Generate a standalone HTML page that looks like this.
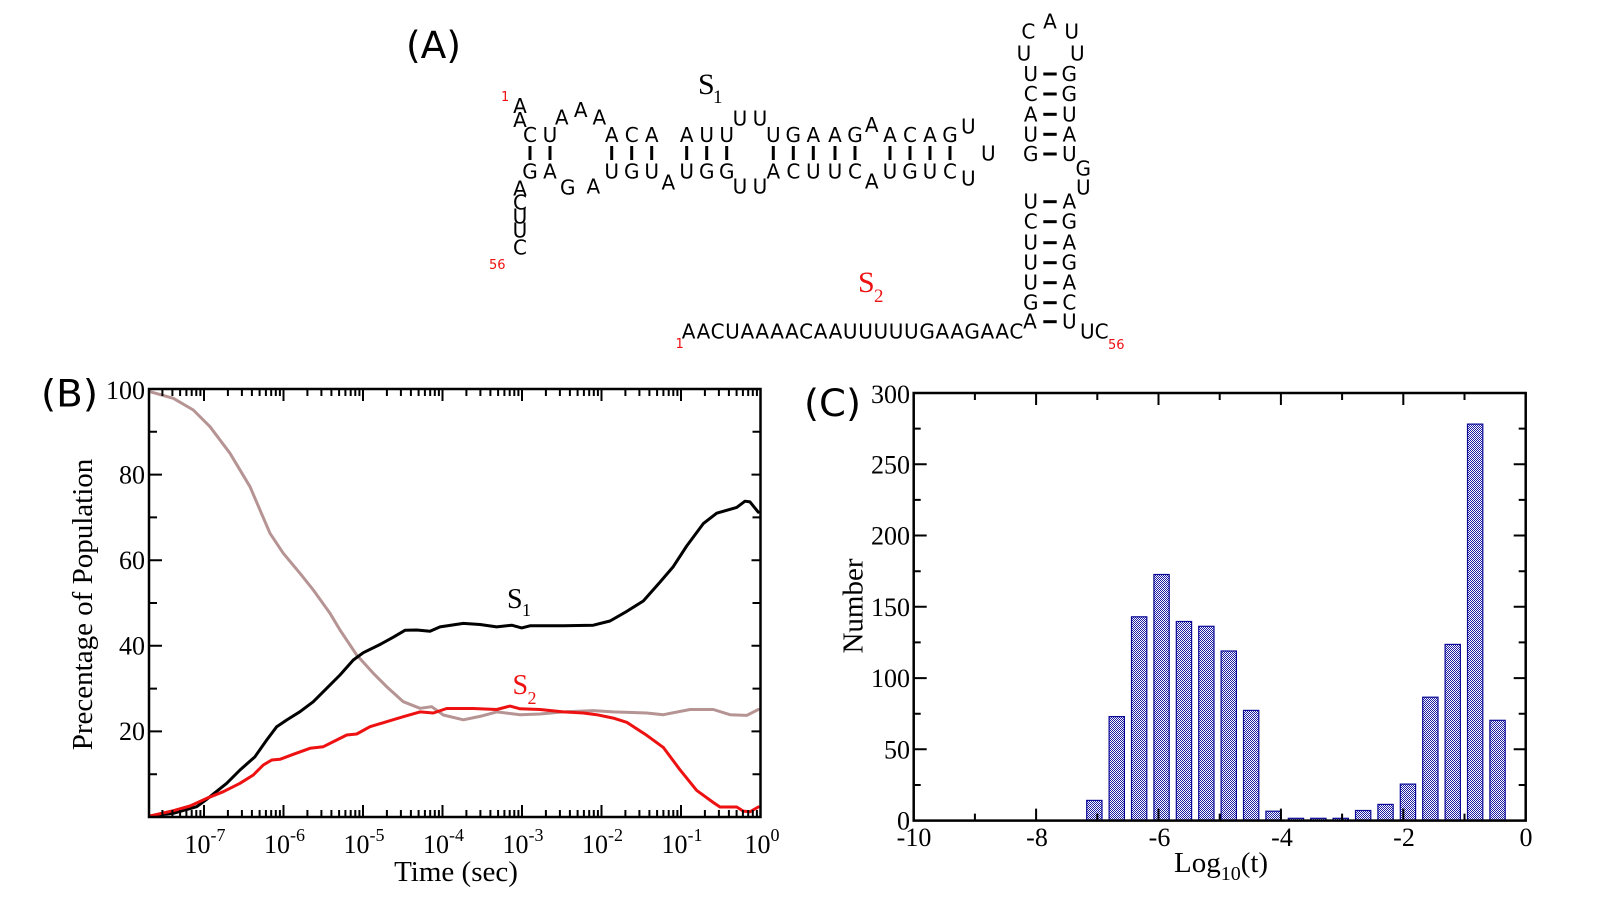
<!DOCTYPE html>
<html><head><meta charset="utf-8"><style>
html,body{margin:0;padding:0;background:#fff;}
svg{display:block;}
.sa{font-family:"DejaVu Sans","Liberation Sans",sans-serif;font-size:20px;fill:#000;text-anchor:middle;}
.rd{font-family:"DejaVu Sans","Liberation Sans",sans-serif;font-size:13px;fill:#ee1111;}
.sf{font-family:"Liberation Serif","DejaVu Serif",serif;fill:#000;}
.pl{font-family:"DejaVu Sans","Liberation Sans",sans-serif;font-size:37px;fill:#000;}
</style></head><body>
<svg width="1600" height="900" viewBox="0 0 1600 900" xmlns="http://www.w3.org/2000/svg">
<defs>
<pattern id="chk" width="2" height="2" patternUnits="userSpaceOnUse">
<rect width="2" height="2" fill="#ffffff"/>
<rect x="0" y="0" width="1" height="1" fill="#1c1ca4"/>
<rect x="1" y="1" width="1" height="1" fill="#1c1ca4"/>
</pattern>
<path id="bminor" d="M162.4 0v7M172.4 0v7M180.1 0v7M186.4 0v7M191.7 0v7M196.3 0v7M200.4 0v7M227.9 0v7M241.9 0v7M251.9 0v7M259.6 0v7M265.9 0v7M271.2 0v7M275.8 0v7M279.9 0v7M307.4 0v7M321.4 0v7M331.4 0v7M339.1 0v7M345.4 0v7M350.7 0v7M355.3 0v7M359.4 0v7M386.9 0v7M400.9 0v7M410.9 0v7M418.6 0v7M424.9 0v7M430.2 0v7M434.8 0v7M438.9 0v7M466.4 0v7M480.4 0v7M490.4 0v7M498.1 0v7M504.4 0v7M509.7 0v7M514.3 0v7M518.4 0v7M545.9 0v7M559.9 0v7M569.9 0v7M577.6 0v7M583.9 0v7M589.2 0v7M593.8 0v7M597.9 0v7M625.4 0v7M639.4 0v7M649.4 0v7M657.1 0v7M663.4 0v7M668.7 0v7M673.3 0v7M677.4 0v7M704.9 0v7M718.9 0v7M728.9 0v7M736.6 0v7M742.9 0v7M748.2 0v7M752.8 0v7M756.9 0v7"/>
<path id="bmajor" d="M204 0v12M283.5 0v12M363 0v12M442.5 0v12M522 0v12M601.5 0v12M681 0v12"/>
</defs>
<rect width="1600" height="900" fill="#fff"/>

<!-- ================= PANEL A ================= -->
<text class="pl" x="406" y="58" textLength="55" lengthAdjust="spacingAndGlyphs">(A)</text>
<text class="rd" x="501" y="101">1</text>
<text class="rd" x="489" y="269">56</text>

<text class="sa" x="520" y="113">A</text>
<text class="sa" x="520" y="127">A</text>
<text class="sa" x="530" y="142">C</text>
<text class="sa" x="550" y="142">U</text>
<text class="sa" x="561.7" y="124.3">A</text>
<text class="sa" x="580.7" y="117">A</text>
<text class="sa" x="599.3" y="124.3">A</text>
<text class="sa" x="611.7" y="142">A</text>
<text class="sa" x="631.7" y="142">C</text>
<text class="sa" x="651.7" y="142">A</text>
<text class="sa" x="686.7" y="142">A</text>
<text class="sa" x="706.7" y="142">U</text>
<text class="sa" x="726.7" y="142">U</text>
<text class="sa" x="740" y="125.3">U</text>
<text class="sa" x="760" y="125.3">U</text>
<text class="sa" x="773.3" y="142">U</text>
<text class="sa" x="793.3" y="142">G</text>
<text class="sa" x="813.3" y="142">A</text>
<text class="sa" x="835" y="142">A</text>
<text class="sa" x="855" y="142">G</text>
<text class="sa" x="871.7" y="132">A</text>
<text class="sa" x="890" y="142">A</text>
<text class="sa" x="910" y="142">C</text>
<text class="sa" x="930" y="142">A</text>
<text class="sa" x="950" y="142">G</text>
<text class="sa" x="968.3" y="133.7">U</text>
<text class="sa" x="988.3" y="160.3">U</text>
<text class="sa" x="530" y="178.7">G</text>
<text class="sa" x="550" y="178.7">A</text>
<text class="sa" x="567.7" y="194.3">G</text>
<text class="sa" x="593.3" y="193.7">A</text>
<text class="sa" x="611.7" y="178.7">U</text>
<text class="sa" x="631.7" y="178.7">G</text>
<text class="sa" x="651.7" y="178.7">U</text>
<text class="sa" x="668.3" y="189.3">A</text>
<text class="sa" x="686.7" y="178.7">U</text>
<text class="sa" x="706.7" y="178.7">G</text>
<text class="sa" x="726.7" y="178.7">G</text>
<text class="sa" x="740" y="193.7">U</text>
<text class="sa" x="760" y="193.7">U</text>
<text class="sa" x="773.3" y="178.7">A</text>
<text class="sa" x="793.3" y="178.7">C</text>
<text class="sa" x="813.3" y="178.7">U</text>
<text class="sa" x="835" y="178.7">U</text>
<text class="sa" x="855" y="178.7">C</text>
<text class="sa" x="871.7" y="188.7">A</text>
<text class="sa" x="890" y="178.7">U</text>
<text class="sa" x="910" y="178.7">G</text>
<text class="sa" x="930" y="178.7">U</text>
<text class="sa" x="950" y="178.7">C</text>
<text class="sa" x="968.3" y="185.3">U</text>
<text class="sa" x="520" y="195.3">A</text>
<text class="sa" x="520" y="209.3">C</text>
<text class="sa" x="520" y="223.7">U</text>
<text class="sa" x="520" y="237.7">U</text>
<text class="sa" x="520" y="254.3">C</text>
<g fill="#000">
<rect x="528.5" y="146" width="3" height="14"/>
<rect x="548.5" y="146" width="3" height="14"/>
<rect x="610.2" y="146" width="3" height="14"/>
<rect x="630.2" y="146" width="3" height="14"/>
<rect x="650.2" y="146" width="3" height="14"/>
<rect x="685.2" y="146" width="3" height="14"/>
<rect x="705.2" y="146" width="3" height="14"/>
<rect x="725.2" y="146" width="3" height="14"/>
<rect x="771.8" y="146" width="3" height="14"/>
<rect x="791.8" y="146" width="3" height="14"/>
<rect x="811.8" y="146" width="3" height="14"/>
<rect x="833.5" y="146" width="3" height="14"/>
<rect x="853.5" y="146" width="3" height="14"/>
<rect x="888.5" y="146" width="3" height="14"/>
<rect x="908.5" y="146" width="3" height="14"/>
<rect x="928.5" y="146" width="3" height="14"/>
<rect x="948.5" y="146" width="3" height="14"/>
</g>
<text class="sf" x="698" y="94" font-size="30">S</text>
<text class="sf" x="713" y="103" font-size="19">1</text>

<text class="sa" x="1028.3" y="38.7">C</text>
<text class="sa" x="1050" y="28.7">A</text>
<text class="sa" x="1071.7" y="38.7">U</text>
<text class="sa" x="1024" y="60.3">U</text>
<text class="sa" x="1077.3" y="60.3">U</text>
<text class="sa" x="1030.7" y="81">U</text><text class="sa" x="1069.3" y="81">G</text>
<text class="sa" x="1030.7" y="101">C</text><text class="sa" x="1069.3" y="101">G</text>
<text class="sa" x="1030.7" y="121.3">A</text><text class="sa" x="1069.3" y="121.3">U</text>
<text class="sa" x="1030.7" y="141.3">U</text><text class="sa" x="1069.3" y="141.3">A</text>
<text class="sa" x="1030.7" y="161">G</text><text class="sa" x="1069.3" y="161">U</text>
<text class="sa" x="1083.3" y="175.3">G</text>
<text class="sa" x="1083.3" y="194.3">U</text>
<text class="sa" x="1030.7" y="208.7">U</text><text class="sa" x="1069.3" y="208.7">A</text>
<text class="sa" x="1030.7" y="228.7">C</text><text class="sa" x="1069.3" y="228.7">G</text>
<text class="sa" x="1030.7" y="249.7">U</text><text class="sa" x="1069.3" y="249.7">A</text>
<text class="sa" x="1030.7" y="269.7">U</text><text class="sa" x="1069.3" y="269.7">G</text>
<text class="sa" x="1030.7" y="289.7">U</text><text class="sa" x="1069.3" y="289.7">A</text>
<text class="sa" x="1030.7" y="309.7">G</text><text class="sa" x="1069.3" y="309.7">C</text>
<text class="sa" x="1030" y="328.7">A</text><text class="sa" x="1069.3" y="328.7">U</text>
<g fill="#000">
<rect x="1043.3" y="72.5" width="13.4" height="3"/>
<rect x="1043.3" y="92.5" width="13.4" height="3"/>
<rect x="1043.3" y="112.8" width="13.4" height="3"/>
<rect x="1043.3" y="132.8" width="13.4" height="3"/>
<rect x="1043.3" y="152.5" width="13.4" height="3"/>
<rect x="1043.3" y="200.2" width="13.4" height="3"/>
<rect x="1043.3" y="220.2" width="13.4" height="3"/>
<rect x="1043.3" y="241.2" width="13.4" height="3"/>
<rect x="1043.3" y="261.2" width="13.4" height="3"/>
<rect x="1043.3" y="281.2" width="13.4" height="3"/>
<rect x="1043.3" y="301.2" width="13.4" height="3"/>
<rect x="1043.3" y="320.2" width="13.4" height="3"/>
</g>
<text class="rd" x="675.5" y="348">1</text>
<text x="681.7" y="338.5" font-family="DejaVu Sans, Liberation Sans, sans-serif" font-size="20" textLength="341.6" lengthAdjust="spacing">AACUAAAACAAUUUUUGAAGAAC</text>
<text x="1080" y="338.5" font-family="DejaVu Sans, Liberation Sans, sans-serif" font-size="20">UC</text>
<text class="rd" x="1108" y="349">56</text>
<text class="sf" x="858" y="292" font-size="30" style="fill:#ee1111">S</text>
<text class="sf" x="874" y="302" font-size="19" style="fill:#ee1111">2</text>

<!-- ================= PANEL B ================= -->
<text class="pl" x="41" y="406.5" textLength="57" lengthAdjust="spacingAndGlyphs">(B)</text>
<g fill="none" stroke-width="3" stroke-linejoin="round" stroke-linecap="round">
<polyline stroke="#b69494" points="150,391.7 173.3,398.3 193.3,410 210,426.7 230,453.3 250,486.7 270,533.3 283.3,553.3 300,573.3 313.3,590 330,613.3 340,630 356.7,655 373.3,673.3 386.7,686.7 403.3,701.7 420,708.3 431.7,706.7 443.3,715 463.3,719.8 480,716.4 496.7,711.9 520,714.7 540,714 563.3,711.9 593.3,710.6 613.3,711.9 646.7,713 663.3,714.7 690,709.5 713.3,709.5 730,714.7 746.7,715.4 758.3,709.5"/>
<polyline stroke="#000000" points="150,816 173.3,813.3 196.7,806.7 206.7,799.3 226.7,783.3 240,770 255,756.7 266.7,740 276.7,726.7 286.7,720 300,711.7 313.3,701.7 326.7,688.3 340,675 353.3,660 363.3,652.7 380,644.5 393.3,637.2 405,630.3 416.7,630 430,631.3 440,626.9 463.3,623.4 480,624.5 496.7,626.9 511.7,625.2 521.7,627.9 530,625.8 563.3,625.8 593.3,625.2 610,621 626.7,611.4 643.3,601 660,582.1 673.3,566.6 686.7,546 703.3,523.6 716.7,513.2 736.7,507.4 745,501.2 750,501.9 758.3,512.2"/>
<polyline stroke="#ee1111" points="150,816 173.3,810.7 190,806 206.7,798.3 223.3,791.7 240,783.3 253.3,775 263.3,765 271.7,760 280,759.3 293.3,754.3 310,748.3 323.3,746.7 336.7,740 346.7,735 356.7,734 370,726.7 386.7,721.7 403.3,716.7 420,711.9 433.3,713 446.7,708.5 473.3,708.5 496.7,709.5 510,706.1 520,708.8 540,709.5 563.3,711.9 583.3,713 596.7,714.7 613.3,718.1 626.7,722.3 646.7,735.3 663.3,747.4 680,769.8 696.7,790.4 713.3,802.5 720,807 736.7,807 743.3,811.1 750,811.8 758.3,807"/>
</g>
<rect x="149" y="389" width="611.5" height="428" fill="none" stroke="#000" stroke-width="2.5"/>
<g stroke="#000" stroke-width="2" fill="none">
<use href="#bminor" transform="translate(0,389)"/>
<use href="#bminor" transform="translate(0,817) scale(1,-1)"/>
<use href="#bmajor" transform="translate(0,389)"/>
<use href="#bmajor" transform="translate(0,817) scale(1,-1)"/>
<path d="M149 731.4h13M149 645.8h13M149 560.2h13M149 474.6h13M149 774.2h8M149 688.6h8M149 603h8M149 517.4h8M149 431.8h8"/>
<path d="M760.5 731.4h-9M760.5 645.8h-9M760.5 560.2h-9M760.5 474.6h-9M760.5 774.2h-8M760.5 688.6h-8M760.5 603h-8M760.5 517.4h-8M760.5 431.8h-8"/>
</g>
<g class="sf" font-size="26" text-anchor="end">
<text x="145" y="399">100</text>
<text x="145" y="483.5">80</text>
<text x="145" y="569">60</text>
<text x="145" y="654.5">40</text>
<text x="145" y="740">20</text>
</g>
<g class="sf" font-size="26" text-anchor="middle">
<text x="205" y="853">10<tspan font-size="18" dy="-12">-7</tspan></text>
<text x="284.5" y="853">10<tspan font-size="18" dy="-12">-6</tspan></text>
<text x="364" y="853">10<tspan font-size="18" dy="-12">-5</tspan></text>
<text x="443.5" y="853">10<tspan font-size="18" dy="-12">-4</tspan></text>
<text x="523" y="853">10<tspan font-size="18" dy="-12">-3</tspan></text>
<text x="602.5" y="853">10<tspan font-size="18" dy="-12">-2</tspan></text>
<text x="682" y="853">10<tspan font-size="18" dy="-12">-1</tspan></text>
<text x="762" y="853">10<tspan font-size="18" dy="-12">0</tspan></text>
</g>
<text class="sf" x="456" y="881" font-size="29" text-anchor="middle">Time (sec)</text>
<text class="sf" font-size="29" text-anchor="middle" transform="translate(92,604.5) rotate(-90)">Precentage of Population</text>
<text class="sf" x="507" y="608" font-size="28">S</text>
<text class="sf" x="522" y="616" font-size="18">1</text>
<text class="sf" x="512.5" y="694" font-size="28" style="fill:#ee1111">S</text>
<text class="sf" x="527.5" y="704" font-size="18" style="fill:#ee1111">2</text>

<!-- ================= PANEL C ================= -->
<text class="pl" x="804" y="416" textLength="57" lengthAdjust="spacingAndGlyphs">(C)</text>
<g fill="url(#chk)" stroke="#0a0a96" stroke-width="1.2">
<rect x="1086.7" y="800.4" width="15.3" height="20.2"/>
<rect x="1109.1" y="716.6" width="15.3" height="104"/>
<rect x="1131.5" y="616.8" width="15.3" height="203.8"/>
<rect x="1153.9" y="574.5" width="15.3" height="246.1"/>
<rect x="1176.3" y="621.5" width="15.3" height="199.1"/>
<rect x="1198.7" y="626.3" width="15.3" height="194.3"/>
<rect x="1221.1" y="651" width="15.3" height="169.6"/>
<rect x="1243.5" y="710.4" width="15.3" height="110.2"/>
<rect x="1265.9" y="811.2" width="15.3" height="9.4"/>
<rect x="1288.3" y="818.3" width="15.3" height="2.3"/>
<rect x="1310.7" y="818.3" width="15.3" height="2.3"/>
<rect x="1333.1" y="818.3" width="15.3" height="2.3"/>
<rect x="1355.5" y="810.5" width="15.3" height="10.1"/>
<rect x="1377.9" y="804.4" width="15.3" height="16.2"/>
<rect x="1400.3" y="784.1" width="15.3" height="36.5"/>
<rect x="1422.7" y="697.2" width="15.3" height="123.4"/>
<rect x="1445.1" y="644.4" width="15.3" height="176.2"/>
<rect x="1467.5" y="424.1" width="15.3" height="396.5"/>
<rect x="1489.9" y="720.3" width="15.3" height="100.3"/>
</g>
<rect x="913.7" y="393" width="612" height="427.6" fill="none" stroke="#000" stroke-width="2.5"/>
<g stroke="#000" stroke-width="2" fill="none">
<path d="M1036.1 393v12M1158.5 393v12M1280.9 393v12M1403.3 393v12M974.9 393v7M1097.3 393v7M1219.7 393v7M1342.1 393v7M1464.5 393v7"/>
<path d="M1036.1 820.6v-12M1158.5 820.6v-12M1280.9 820.6v-12M1403.3 820.6v-12M974.9 820.6v-7M1097.3 820.6v-7M1219.7 820.6v-7M1342.1 820.6v-7M1464.5 820.6v-7"/>
<path d="M913.7 749.3h13M913.7 678.1h13M913.7 606.8h13M913.7 535.5h13M913.7 464.3h13M913.7 785h7M913.7 713.7h7M913.7 642.4h7M913.7 571.2h7M913.7 499.9h7M913.7 428.6h7"/>
<path d="M1525.7 749.3h-12M1525.7 678.1h-12M1525.7 606.8h-12M1525.7 535.5h-12M1525.7 464.3h-12M1525.7 785h-7M1525.7 713.7h-7M1525.7 642.4h-7M1525.7 571.2h-7M1525.7 499.9h-7M1525.7 428.6h-7"/>
</g>
<g class="sf" font-size="26" text-anchor="end">
<text x="910" y="403">300</text>
<text x="910" y="473.3">250</text>
<text x="910" y="544.5">200</text>
<text x="910" y="615.8">150</text>
<text x="910" y="687.1">100</text>
<text x="910" y="758.3">50</text>
<text x="910" y="829.5">0</text>
</g>
<g class="sf" font-size="26" text-anchor="middle">
<text x="914" y="846">-10</text>
<text x="1037" y="846">-8</text>
<text x="1159.5" y="846">-6</text>
<text x="1282" y="846">-4</text>
<text x="1404" y="846">-2</text>
<text x="1526" y="846">0</text>
</g>
<text class="sf" x="1174" y="872" font-size="29">Log<tspan font-size="20" dy="8">10</tspan><tspan dy="-8">(t)</tspan></text>
<text class="sf" font-size="29" text-anchor="middle" transform="translate(862.5,606) rotate(-90)">Number</text>
</svg>
</body></html>
